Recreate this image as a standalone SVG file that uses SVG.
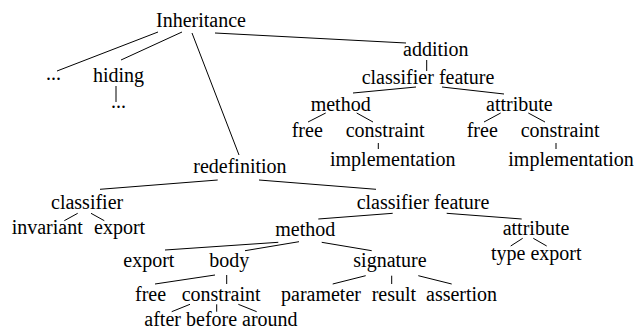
<svg xmlns="http://www.w3.org/2000/svg" width="636" height="331" viewBox="0 0 636 331">
<rect width="636" height="331" fill="#fff"/>
<g id="connectors" stroke="#000" stroke-width="1">
<line x1="158" y1="32" x2="57" y2="71"/>
<line x1="182" y1="32" x2="121" y2="60"/>
<line x1="192" y1="33" x2="239" y2="155"/>
<line x1="215" y1="33" x2="406" y2="43"/>
<line x1="116" y1="86" x2="116" y2="102"/>
<line x1="426.7" y1="60" x2="426.7" y2="71"/>
<line x1="416" y1="87" x2="353" y2="93"/>
<line x1="442" y1="87" x2="504" y2="94"/>
<line x1="325.7" y1="113" x2="308" y2="122"/>
<line x1="356.7" y1="113" x2="373" y2="122"/>
<line x1="378.3" y1="143" x2="378.3" y2="149"/>
<line x1="500.7" y1="113" x2="484" y2="122"/>
<line x1="528.3" y1="113" x2="545" y2="122"/>
<line x1="556" y1="143" x2="556" y2="149"/>
<line x1="217.7" y1="180" x2="100" y2="189.3"/>
<line x1="259" y1="180" x2="376" y2="189.3"/>
<line x1="77.7" y1="213.3" x2="64.3" y2="220.7"/>
<line x1="91" y1="213.3" x2="104.3" y2="220.7"/>
<line x1="392.7" y1="213.3" x2="318.3" y2="219"/>
<line x1="446.7" y1="213.3" x2="521.7" y2="219"/>
<line x1="522.7" y1="238.3" x2="510.7" y2="246"/>
<line x1="533.3" y1="238.3" x2="546.7" y2="246"/>
<line x1="278.3" y1="242.3" x2="165" y2="250"/>
<line x1="299" y1="241.7" x2="245" y2="250.7"/>
<line x1="321.7" y1="242.3" x2="371.7" y2="250.7"/>
<line x1="215" y1="275" x2="155" y2="284"/>
<line x1="226.7" y1="275" x2="226.7" y2="284"/>
<line x1="365.7" y1="275.7" x2="332.7" y2="284"/>
<line x1="391.7" y1="275.7" x2="391.7" y2="284"/>
<line x1="418.3" y1="275.7" x2="451.7" y2="284"/>
<line x1="190" y1="304.3" x2="171.7" y2="311.7"/>
<line x1="216.7" y1="304.3" x2="216.7" y2="311.7"/>
<line x1="238.3" y1="304.3" x2="256.7" y2="311.7"/>
</g>
<g id="inheritance"><text x="156" y="27" font-family="Liberation Serif" font-size="20">Inheritance</text></g>
<g id="dots1"><text x="46" y="80" font-family="Liberation Serif" font-size="20">...</text></g>
<g id="hiding"><text x="93" y="82" font-family="Liberation Serif" font-size="20">hiding</text></g>
<g id="dots2"><text x="111" y="108" font-family="Liberation Serif" font-size="20">...</text></g>
<g id="addition"><text x="403" y="56" font-family="Liberation Serif" font-size="20">addition</text></g>
<g id="add-classifier-feature"><text x="361.7" y="84" font-family="Liberation Serif" font-size="20">classifier feature</text></g>
<g id="add-method"><text x="310.7" y="111" font-family="Liberation Serif" font-size="20">method</text></g>
<g id="add-attribute"><text x="486" y="111" font-family="Liberation Serif" font-size="20">attribute</text></g>
<g id="add-method-free"><text x="291.7" y="137" font-family="Liberation Serif" font-size="20">free</text></g>
<g id="add-method-constraint"><text x="345.7" y="137" font-family="Liberation Serif" font-size="20">constraint</text></g>
<g id="add-method-implementation"><text x="330" y="166" font-family="Liberation Serif" font-size="20">implementation</text></g>
<g id="add-attribute-free"><text x="466.7" y="137" font-family="Liberation Serif" font-size="20">free</text></g>
<g id="add-attribute-constraint"><text x="520.7" y="137" font-family="Liberation Serif" font-size="20">constraint</text></g>
<g id="add-attribute-implementation"><text x="508.3" y="166" font-family="Liberation Serif" font-size="20">implementation</text></g>
<g id="redefinition"><text x="193.3" y="173" font-family="Liberation Serif" font-size="20">redefinition</text></g>
<g id="red-classifier"><text x="51" y="209" font-family="Liberation Serif" font-size="20">classifier</text></g>
<g id="red-invariant"><text x="11.7" y="234" font-family="Liberation Serif" font-size="20">invariant</text></g>
<g id="red-classifier-export"><text x="94" y="234" font-family="Liberation Serif" font-size="20">export</text></g>
<g id="red-classifier-feature"><text x="356.7" y="209" font-family="Liberation Serif" font-size="20">classifier feature</text></g>
<g id="red-method"><text x="275.3" y="236" font-family="Liberation Serif" font-size="20">method</text></g>
<g id="red-attribute"><text x="502.7" y="235" font-family="Liberation Serif" font-size="20">attribute</text></g>
<g id="red-type"><text x="491" y="260" font-family="Liberation Serif" font-size="20">type</text></g>
<g id="red-attribute-export"><text x="530.4" y="260" font-family="Liberation Serif" font-size="20">export</text></g>
<g id="red-method-export"><text x="123.3" y="267.3" font-family="Liberation Serif" font-size="20">export</text></g>
<g id="red-body"><text x="209.3" y="267.3" font-family="Liberation Serif" font-size="20">body</text></g>
<g id="red-signature"><text x="353.3" y="266.7" font-family="Liberation Serif" font-size="20">signature</text></g>
<g id="red-free"><text x="135" y="300.7" font-family="Liberation Serif" font-size="20">free</text></g>
<g id="red-constraint"><text x="181.7" y="300.7" font-family="Liberation Serif" font-size="20">constraint</text></g>
<g id="red-parameter"><text x="281" y="301" font-family="Liberation Serif" font-size="20">parameter</text></g>
<g id="red-result"><text x="371.7" y="301" font-family="Liberation Serif" font-size="20">result</text></g>
<g id="red-assertion"><text x="426" y="301" font-family="Liberation Serif" font-size="20">assertion</text></g>
<g id="red-after"><text x="144.3" y="325.7" font-family="Liberation Serif" font-size="20">after</text></g>
<g id="red-before"><text x="186" y="325.7" font-family="Liberation Serif" font-size="20">before</text></g>
<g id="red-around"><text x="242" y="325.7" font-family="Liberation Serif" font-size="20">around</text></g>
</svg>
